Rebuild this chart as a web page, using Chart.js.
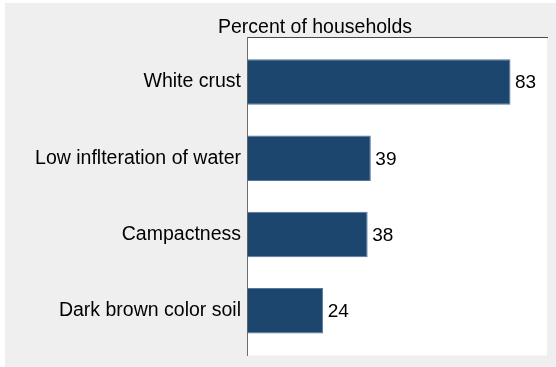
<!DOCTYPE html>
<html>
<head>
<meta charset="utf-8">
<script src="https://cdn.jsdelivr.net/npm/chart.js@4"></script>
<style>
  html, body { margin: 0; padding: 0; background: #fff; }
  canvas { display: block; }
</style>
</head>
<body>
<canvas id="chart" width="556" height="367"></canvas>
<script>
// Данные графика
const categories = ["White crust", "Low inflteration of water", "Campactness", "Dark brown color soil"];
const percents = [83, 39, 38, 24];
const axisTitle = "Percent of households";

const FONT = "'Liberation Sans', Arial, sans-serif";

// Серый фон панели + белая область графика
const panelBg = {
  id: "panelBg",
  beforeDraw(chart) {
    const { ctx, chartArea: a } = chart;
    ctx.save();
    ctx.fillStyle = "#ffffff";
    ctx.fillRect(0, 0, chart.width, chart.height);
    ctx.fillStyle = "#efefef";
    ctx.fillRect(5, 3, chart.width - 5, chart.height - 3);
    ctx.fillStyle = "#ffffff";
    ctx.fillRect(a.left, a.top, a.right - a.left, a.bottom - a.top);
    ctx.restore();
  },
};

// Заголовок оси сверху (смещён влево, как в оригинале)
const topTitle = {
  id: "topTitle",
  afterDraw(chart) {
    const { ctx, chartArea: a } = chart;
    ctx.save();
    ctx.font = "19.5px " + FONT;
    ctx.fillStyle = "#000";
    ctx.textAlign = "center";
    ctx.textBaseline = "alphabetic";
    ctx.fillText(axisTitle, a.left + 68, a.top - 5);
    ctx.restore();
  },
};

// Подписи значений справа от столбцов
const valueLabels = {
  id: "valueLabels",
  afterDatasetsDraw(chart) {
    const { ctx } = chart;
    const meta = chart.getDatasetMeta(0);
    ctx.save();
    ctx.font = "19px " + FONT;
    ctx.fillStyle = "#000";
    ctx.textAlign = "left";
    ctx.textBaseline = "middle";
    meta.data.forEach((bar, i) => {
      ctx.fillText(String(percents[i]), bar.x + 4.5, bar.y + 1);
    });
    ctx.restore();
  },
};

new Chart(document.getElementById("chart"), {
  type: "bar",
  data: {
    datasets: [{
      data: percents.map((v, i) => ({ x: v, y: i })),
      backgroundColor: "#1c466d",
      borderColor: "#54779a",
      borderWidth: 1,
      barPercentage: 0.597,
      categoryPercentage: 1,
    }],
  },
  options: {
    indexAxis: "y",
    responsive: false,
    animation: false,
    devicePixelRatio: 1,
    layout: { padding: { top: 37.5, right: 9, bottom: 11.7, left: 0 } },
    plugins: { legend: { display: false }, tooltip: { enabled: false } },
    scales: {
      x: {
        type: "linear",
        position: "top",
        min: 0,
        max: 94.5,
        ticks: { display: false },
        grid: { drawOnChartArea: false, drawTicks: false },
        border: { display: true, color: "#4a4a4a", width: 1 },
        afterFit(s) { s.height = 0; s.paddingLeft = 0; s.paddingRight = 0; },
      },
      y: {
        type: "linear",
        reverse: true,
        offset: false,
        min: -0.585,
        max: 3.585,
        afterBuildTicks(s) { s.ticks = categories.map((c, i) => ({ value: i })); },
        ticks: {
          autoSkip: false,
          padding: 6,
          color: "#000",
          font: { family: FONT, size: 19.5 },
          callback: (v) => categories[v],
        },
        grid: { offset: false, drawOnChartArea: false, drawTicks: false },
        border: { display: true, color: "#6e6e6e", width: 1 },
        afterFit(s) { s.width = 247; s.paddingTop = 0; s.paddingBottom = 0; },
      },
    },
  },
  plugins: [panelBg, topTitle, valueLabels],
});
</script>
</body>
</html>
